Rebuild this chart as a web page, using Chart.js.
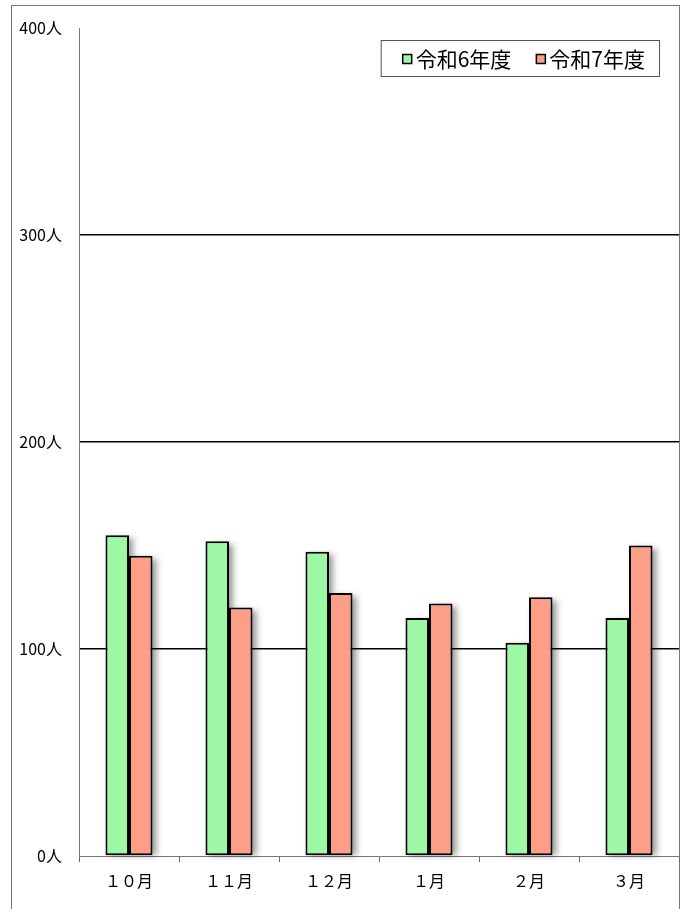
<!DOCTYPE html>
<html>
<head>
<meta charset="utf-8">
<script src="https://cdn.jsdelivr.net/npm/chart.js@4.4.0/dist/chart.umd.min.js"></script>
<style>
  body { margin: 0; background: #fff; }
  #wrap { position: relative; width: 686px; height: 909px; }
  #frame { position: absolute; left: 11px; top: 5px; width: 667px; height: 920px; border: 1px solid #777; }
  canvas { position: absolute; left: 0; top: 0; }
</style>
</head>
<body>
<div id="wrap">
  <div id="frame"></div>
  <canvas id="myChart" width="686" height="909"></canvas>
</div>
<script>
// months on the x axis (full-width digits as in the original)
const months = ['１０月', '１１月', '１２月', '１月', '２月', '３月'];
// visitors per month
const r6 = [155, 152, 147, 115, 103, 115];
const r7 = [145, 120, 127, 122, 125, 150];
const yTicks = [0, 100, 200, 300, 400];

const jp = '"Noto Sans CJK JP", "Noto Sans", sans-serif';

// soft drop shadow behind each bar
const barShadow = {
  id: 'barShadow',
  beforeDatasetsDraw(chart) {
    const ctx = chart.ctx;
    ctx.save();
    ctx.filter = 'blur(3px)';
    ctx.fillStyle = 'rgba(0,0,0,0.4)';
    chart.data.datasets.forEach(function(ds, i) {
      chart.getDatasetMeta(i).data.forEach(function(bar) {
        const p = bar.getProps(['x', 'y', 'base', 'width'], true);
        ctx.fillRect(p.x - p.width / 2 + 4, p.y + 3, p.width, p.base - p.y - 3);
      });
    });
    ctx.restore();
  }
};

// legend in a framed box at the top right of the plot
const boxLegend = {
  id: 'boxLegend',
  afterDraw(chart) {
    const ctx = chart.ctx;
    const area = chart.chartArea;
    const right = area.right - 20, top = area.top + 12, h = 36;
    ctx.save();
    ctx.font = '21px ' + jp;
    const sets = chart.data.datasets;
    var w = 22;
    sets.forEach(function(ds, i) {
      w += 13 + ctx.measureText(ds.label).width + (i < sets.length - 1 ? 25 : 0);
    });
    w += 14;
    const left = right - w;
    ctx.fillStyle = '#fff';
    ctx.fillRect(left, top, w, h);
    ctx.strokeStyle = '#555';
    ctx.lineWidth = 1;
    ctx.strokeRect(left + 0.5, top + 0.5, w, h);
    var x = left + 22;
    const cy = top + h / 2 + 1;
    ctx.textBaseline = 'middle';
    sets.forEach(function(ds) {
      ctx.fillStyle = ds.backgroundColor;
      ctx.fillRect(x, cy - 4.5, 9, 9);
      ctx.strokeStyle = '#000';
      ctx.lineWidth = 1.5;
      ctx.strokeRect(x, cy - 4.5, 9, 9);
      x += 13;
      ctx.fillStyle = '#000';
      ctx.fillText(ds.label, x, cy);
      x += ctx.measureText(ds.label).width + 25;
    });
    ctx.restore();
  }
};

var ctx = document.getElementById('myChart').getContext('2d');
window.myChart = new Chart(ctx, {
  type: 'bar',
  data: {
    labels: months,
    datasets: [{
      label: '令和6年度',
      data: r6,
      backgroundColor: '#9cf8a4',
      borderColor: '#000',
      borderWidth: 2,
      borderSkipped: false,
      categoryPercentage: 0.47,
      barPercentage: 1
    }, {
      label: '令和7年度',
      data: r7,
      backgroundColor: '#fd9f88',
      borderColor: '#000',
      borderWidth: 2,
      borderSkipped: false,
      categoryPercentage: 0.47,
      barPercentage: 1
    }]
  },
  options: {
    responsive: false,
    animation: false,
    layout: { padding: { top: 28, right: 7, left: 0, bottom: 0 } },
    plugins: {
      tooltip: { enabled: false },
      legend: { display: false }
    },
    scales: {
      x: {
        grid: { display: true, drawOnChartArea: false, drawTicks: true, tickLength: 6, color: '#666', offset: true },
        border: { display: true, color: '#777', width: 1 },
        ticks: { font: { family: jp, size: 16 }, color: '#000', padding: 9 },
        afterFit: function(s) { s.height = 53; }
      },
      y: {
        min: 0,
        max: 400,
        afterBuildTicks: function(s) { s.ticks = yTicks.map(function(v) { return { value: v }; }); },
        grid: {
          drawTicks: false,
          color: function(c) { return (c.tick.value === 0 || c.tick.value === 400) ? 'rgba(0,0,0,0)' : '#000'; },
          lineWidth: 1.5
        },
        border: { display: true, color: '#777', width: 1 },
        ticks: {
          font: { family: jp, size: 16 },
          color: '#000',
          padding: 17,
          callback: function(v) { return v + '人'; }
        },
        afterFit: function(s) { s.width = 79; }
      }
    }
  },
  plugins: [barShadow, boxLegend]
});
</script>
</body>
</html>
